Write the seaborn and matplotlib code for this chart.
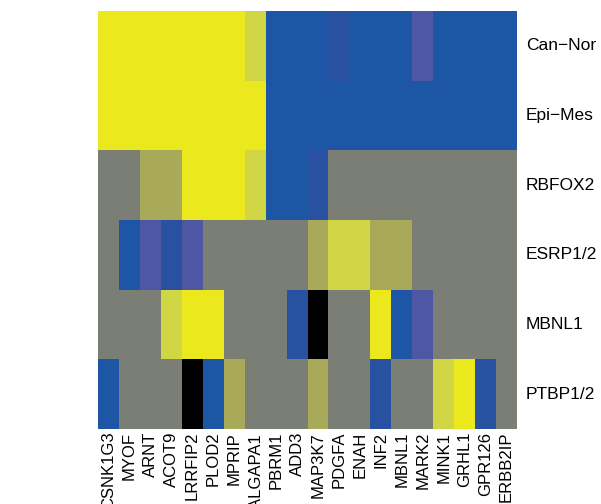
import matplotlib
matplotlib.use("Agg")
import matplotlib.pyplot as plt
from matplotlib.colors import ListedColormap, BoundaryNorm
import numpy as np
import pandas as pd
import seaborn as sns

genes = ["CSNK1G3", "MYOF", "ARNT", "ACOT9", "LRRFIP2", "PLOD2", "MPRIP",
         "RALGAPA1", "PBRM1", "ADD3", "MAP3K7", "PDGFA", "ENAH", "INF2",
         "MBNL1", "MARK2", "MINK1", "GRHL1", "GPR126", "ERBB2IP"]
rows = ["Can\u2212Nor", "Epi\u2212Mes", "RBFOX2", "ESRP1/2", "MBNL1", "PTBP1/2"]

# level codes: 0 blue, 1 dark blue, 2 purple, 3 gray (none), 4 olive,
# 5 light yellow, 6 yellow, 7 black
can_nor = [6, 6, 6, 6, 6, 6, 6, 5, 0, 0, 0, 1, 0, 0, 0, 2, 0, 0, 0, 0]
epi_mes = [6, 6, 6, 6, 6, 6, 6, 6, 0, 0, 0, 0, 0, 0, 0, 0, 0, 0, 0, 0]
rbfox2  = [3, 3, 4, 4, 6, 6, 6, 5, 0, 0, 1, 3, 3, 3, 3, 3, 3, 3, 3, 3]
esrp    = [3, 0, 2, 1, 2, 3, 3, 3, 3, 3, 4, 5, 5, 4, 4, 3, 3, 3, 3, 3]
mbnl1   = [3, 3, 3, 5, 6, 6, 3, 3, 3, 1, 7, 3, 3, 6, 0, 2, 3, 3, 3, 3]
ptbp    = [0, 3, 3, 3, 7, 0, 4, 3, 3, 3, 4, 3, 3, 1, 3, 3, 5, 6, 1, 3]

level_colors = ["#1E56A6", "#2851A2", "#4D57A4", "#7B7E74",
                "#A8AA5A", "#D0D644", "#EBE81E", "#000000"]

df = pd.DataFrame([can_nor, epi_mes, rbfox2, esrp, mbnl1, ptbp],
                  index=rows, columns=genes)

cmap = ListedColormap(level_colors)
norm = BoundaryNorm(np.arange(-0.5, len(level_colors) + 0.5, 1), cmap.N)

plt.rcParams['font.family'] = ['Liberation Sans', 'DejaVu Sans']
fig = plt.figure(figsize=(6.01, 5.04), dpi=100)
ax = fig.add_axes([98 / 601, 1 - 429 / 504, 419 / 601, 418 / 504])
sns.heatmap(df, cmap=cmap, norm=norm, cbar=False, ax=ax,
            xticklabels=True, yticklabels=True)
ax.yaxis.tick_right()
ax.tick_params(axis='both', length=0)
ax.tick_params(axis='y', pad=6.5, labelsize=12.5)
ax.tick_params(axis='x', pad=2, labelsize=12)
plt.setp(ax.get_yticklabels(), rotation=0, ha='left', va='center')
plt.setp(ax.get_xticklabels(), rotation=90, ha='center', va='top')
ax.set_xlabel("")
ax.set_ylabel("")
fig.savefig("out.png", dpi=100, facecolor="white")
